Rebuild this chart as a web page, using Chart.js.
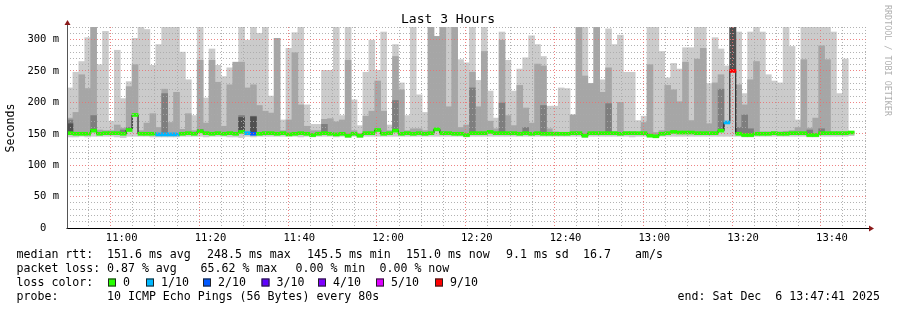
<!DOCTYPE html>
<html><head><meta charset="utf-8">
<script src="https://cdn.jsdelivr.net/npm/chart.js@4/dist/chart.umd.min.js"></script>
<style>html,body{margin:0;padding:0;background:#fff;}#wrap{width:897px;height:310px;position:relative;}</style>
</head><body><div id="wrap"><canvas id="c" width="897" height="310"></canvas></div>
<script>
// ---- data (milliseconds), one entry per 80 s step, 10:47:41 .. 13:45:xx ----
const maxTop = [223,248,265,303,320,260,313,170,283,206,
233,302,320,316,259,292,320,320,320,280,
236,179,320,207,285,259,241,255,255,320,
299,320,310,320,210,302,172,286,311,320,
196,165,165,251,251,320,179,320,204,163,
248,299,251,312,164,292,231,179,320,212,
184,320,305,320,320,320,268,263,320,235,
320,218,175,312,267,218,253,271,306,292,
273,194,194,223,222,180,320,320,230,320,
236,317,292,307,248,248,171,178,320,320,
281,239,262,253,287,287,320,320,230,303,
285,258,320,312,214,312,320,312,244,234,
231,320,289,172,320,320,320,320,320,312,
214,269,154];
const midTop = [175,184,244,222,320,156,155,155,164,159,
225,260,155,167,182,160,221,168,216,157,
182,155,267,167,267,232,162,228,264,264,
223,228,195,186,183,302,155,172,279,196,
162,155,155,173,174,169,172,267,155,150,
178,186,234,186,155,273,220,155,158,158,
155,320,305,320,193,320,160,164,248,193,
281,170,158,299,179,163,227,191,167,261,
258,158,153,152,152,180,320,242,230,320,
216,255,153,200,153,153,152,168,260,152,
155,227,220,201,264,171,269,286,166,231,
244,167,320,228,196,236,265,153,153,153,
153,154,155,160,268,159,175,290,268,153,
153,153,152];
const darkTop = {0:172,4:179,9:156,10:160,16:214,22:157,29:179,31:178,43:165,55:203,
68:223,73:199,77:160,80:195,91:198,110:221,112:320,113:160,114:180,115:158,125:156,127:158};
const darkestTop = {0:166,29:176,31:177,112:320};
const minBottom = [145,145,146,145,146,146,146,146,145,144,
146,146,146,146,145,145,145,145,145,146,
146,146,146,145,146,146,146,145,145,144,
146,145,146,146,146,146,146,146,146,145,
146,145,146,146,146,145,146,144,146,144,
146,146,146,146,146,146,146,146,146,146,
146,146,146,146,146,146,146,145,146,146,
146,146,146,146,146,146,146,146,146,146,
146,146,146,146,146,146,146,144,146,146,
146,146,146,146,146,145,146,146,145,144,
146,146,146,146,146,146,146,146,146,146,
146,146,146,146,145,145,146,146,146,146,
146,146,146,146,146,145,145,146,146,146,
146,146,147];
const median = [151,150,150,150,155,150,151,151,151,150,
156,180,150,150,150,149,149,149,149,150,
151,150,154,151,150,151,150,151,150,153,
151,150,150,151,151,150,151,149,150,151,
150,148,150,151,150,149,150,147,150,147,
151,151,156,150,151,155,150,151,150,151,
150,151,157,151,151,150,150,148,151,151,
151,153,151,151,151,151,150,151,150,151,
150,150,150,150,150,151,151,147,151,151,
151,151,151,150,151,151,151,151,147,146,
150,151,153,152,152,152,151,151,151,151,
155,168,250,150,148,148,150,150,150,151,
150,150,151,151,151,148,148,151,151,151,
151,151,152];
const loss = [0,0,0,0,0,0,0,0,0,0, 0,0,0,0,0,1,1,1,1,0, 0,0,0,0,0,0,0,0,0,0,
1,2,0,0,0,0,0,0,0,0, 0,0,0,0,0,0,0,0,0,0, 0,0,0,0,0,0,0,0,0,0,
0,0,0,0,0,0,0,0,0,0, 0,0,0,0,0,0,0,0,0,0, 0,0,0,0,0,0,0,0,0,0,
0,0,0,0,0,0,0,0,0,0, 0,0,0,0,0,0,0,0,0,0, 0,1,9,0,0,0,0,0,0,0,
0,0,0,0,0,0,0,0,0,0, 0,0,0];
const lossLabels = ['0','1/10','2/10','3/10','4/10','5/10','9/10'];
const lossKeys = [0,1,2,3,4,5,9];
const lossColors = {0:'#26ff00',1:'#00b8ff',2:'#0059ff',3:'#5e00ff',4:'#7e00ff',5:'#dd00ff',9:'#ff0000'};
const xTickLabels = ['11:00','11:20','11:40','12:00','12:20','12:40','13:00','13:20','13:40'];
const yTickLabels = {0:'0  ',50:'50 m',100:'100 m',150:'150 m',200:'200 m',250:'250 m',300:'300 m'};

// time axis in minutes after 10:00
const startMin = 47 + 41/60, stepMin = 80/60, endMin = startMin + 180;
const tAt = i => startMin + (i + 0.5) * stepMin;

const FONT = '"DejaVu Sans Mono", monospace';
const barBase = {type:'bar', barPercentage:1, categoryPercentage:1, grouped:false, borderWidth:0};

function sparse(obj, color, ord){
  const d = Object.keys(obj).map(k => ({x:tAt(+k), y:[median[+k], obj[k]]}));
  return Object.assign({}, barBase, {data:d, backgroundColor:color, order:ord});
}

const datasets = [
  Object.assign({}, barBase, {order:0,
    data: median.map((m,i)=>({x:tAt(i), y:[m-2.4, m+2.4]})),
    backgroundColor: ctx => lossColors[loss[ctx.dataIndex]] || '#26ff00'}),
  {type:'line', order:1, data: median.map((m,i)=>({x:tAt(i), y:m})),
    borderColor:'#000', borderWidth:1, stepped:'middle', pointRadius:0, fill:false},
  sparse(darkestTop, '#505050', 2),
  sparse(darkTop, '#7e7e7e', 3),
  Object.assign({}, barBase, {order:4, data: midTop.map((v,i)=>({x:tAt(i), y:[median[i], v]})), backgroundColor:'#a6a6a6'}),
  Object.assign({}, barBase, {order:5, data: maxTop.map((v,i)=>({x:tAt(i), y:[minBottom[i], v]})), backgroundColor:'#cbcbcb'})
];

const RED = 'rgba(235,110,110,0.85)', GRAY = 'rgba(170,170,170,0.9)';

const deco = {
  id:'deco',
  afterDraw(chart){
    const ctx = chart.ctx, a = chart.chartArea;
    ctx.save();
    // axes
    ctx.strokeStyle = '#000'; ctx.lineWidth = 1;
    ctx.beginPath(); ctx.moveTo(a.left-0.5, a.bottom+0.5); ctx.lineTo(a.right+4, a.bottom+0.5); ctx.stroke();
    ctx.strokeStyle = '#555';
    ctx.beginPath(); ctx.moveTo(a.left+0.5, a.bottom+0.5); ctx.lineTo(a.left+0.5, a.top-4); ctx.stroke();
    ctx.fillStyle = '#8b1a1a';
    ctx.beginPath(); ctx.moveTo(a.left+0.5, a.top-7); ctx.lineTo(a.left-2.5, a.top-2); ctx.lineTo(a.left+3.5, a.top-2); ctx.closePath(); ctx.fill();
    ctx.beginPath(); ctx.moveTo(a.right+8, a.bottom+0.5); ctx.lineTo(a.right+3, a.bottom-2.5); ctx.lineTo(a.right+3, a.bottom+3.5); ctx.closePath(); ctx.fill();
    // title
    ctx.fillStyle = '#000'; ctx.textBaseline = 'middle';
    ctx.font = '13px ' + FONT; ctx.textAlign = 'center';
    ctx.fillText('Last 3 Hours', 448, 20);
    // y title
    ctx.save(); ctx.translate(11, 128); ctx.rotate(-Math.PI/2);
    ctx.font = '11.6px ' + FONT; ctx.fillText('Seconds', 0, 0); ctx.restore();
    // watermark
    ctx.save(); ctx.translate(887, 5); ctx.rotate(Math.PI/2);
    ctx.font = '8.4px ' + FONT; ctx.textAlign = 'left'; ctx.fillStyle = '#b0b0b0';
    ctx.fillText('RRDTOOL / TOBI OETIKER', 0, 0); ctx.restore();
    // legend
    ctx.font = '11.6px ' + FONT; ctx.textAlign = 'left'; ctx.fillStyle = '#000';
    const L = (s, x, y) => ctx.fillText(s, x, y);
    L('median rtt:', 16.5, 255); L('151.6 ms avg', 107, 255); L('248.5 ms max', 207, 255);
    L('145.5 ms min', 307, 255); L('151.0 ms now', 406, 255); L('9.1 ms sd', 506, 255);
    L('16.7', 583, 255); L('am/s', 635, 255);
    L('packet loss:', 16.5, 268.5); L('0.87 % avg', 107, 268.5); L('65.62 % max', 200.5, 268.5);
    L('0.00 % min', 295.5, 268.5); L('0.00 % now', 379.5, 268.5);
    L('loss color:', 16.5, 282.5);
    const boxX = [108,146,203,261.5,318,376,435];
    lossKeys.forEach((k, j) => {
      ctx.fillStyle = lossColors[k]; ctx.fillRect(boxX[j], 278.5, 8, 8);
      ctx.strokeStyle = '#222'; ctx.strokeRect(boxX[j]+0.5, 279, 7, 7);
      ctx.fillStyle = '#000'; L(lossLabels[j], boxX[j]+15, 282.5);
    });
    L('probe:', 16.5, 296.5); L('10 ICMP Echo Pings (56 Bytes) every 80s', 107, 296.5);
    ctx.textAlign = 'right'; L('end: Sat Dec  6 13:47:41 2025', 880, 296.5);
    ctx.restore();
  }
};

new Chart(document.getElementById('c'), {
  type:'bar',
  data:{datasets},
  plugins:[deco],
  options:{
    responsive:false, devicePixelRatio:1, animation:false,
    layout:{padding:{left:0, right:31, top:27, bottom:0}},
    plugins:{legend:{display:false}, tooltip:{enabled:false}, title:{display:false}},
    scales:{
      x:{type:'linear', min:startMin, max:endMin, offset:false,
        afterBuildTicks: s => { const t=[]; for (let v=50; v<=225; v+=5) t.push({value:v}); s.ticks=t; },
        afterFit: s => { s.height = 82; },
        ticks:{autoSkip:false, maxRotation:0, padding:4, color:'#000', font:{family:FONT, size:10.5},
          callback: v => (v % 20 === 0 ? xTickLabels[(v-60)/20] : '')},
        grid:{z:1, drawTicks:false, lineWidth:1, color: c => (c.tick && c.tick.value % 20 === 0 ? RED : GRAY)},
        border:{display:false, dash:[1,2]}
      },
      y:{type:'linear', min:0, max:320,
        afterBuildTicks: s => { const t=[]; for (let v=0; v<=320; v+=10) t.push({value:v}); s.ticks=t; },
        afterFit: s => { s.width = 67; },
        ticks:{autoSkip:false, padding:8, color:'#000', font:{family:FONT, size:10.5},
          callback: v => (yTickLabels[v] !== undefined ? yTickLabels[v] : '')},
        grid:{z:1, drawTicks:false, lineWidth:1, color: c => (c.tick && c.tick.value % 50 === 0 ? RED : GRAY)},
        border:{display:false, dash:[1,2]}
      }
    }
  }
});
</script></body></html>
